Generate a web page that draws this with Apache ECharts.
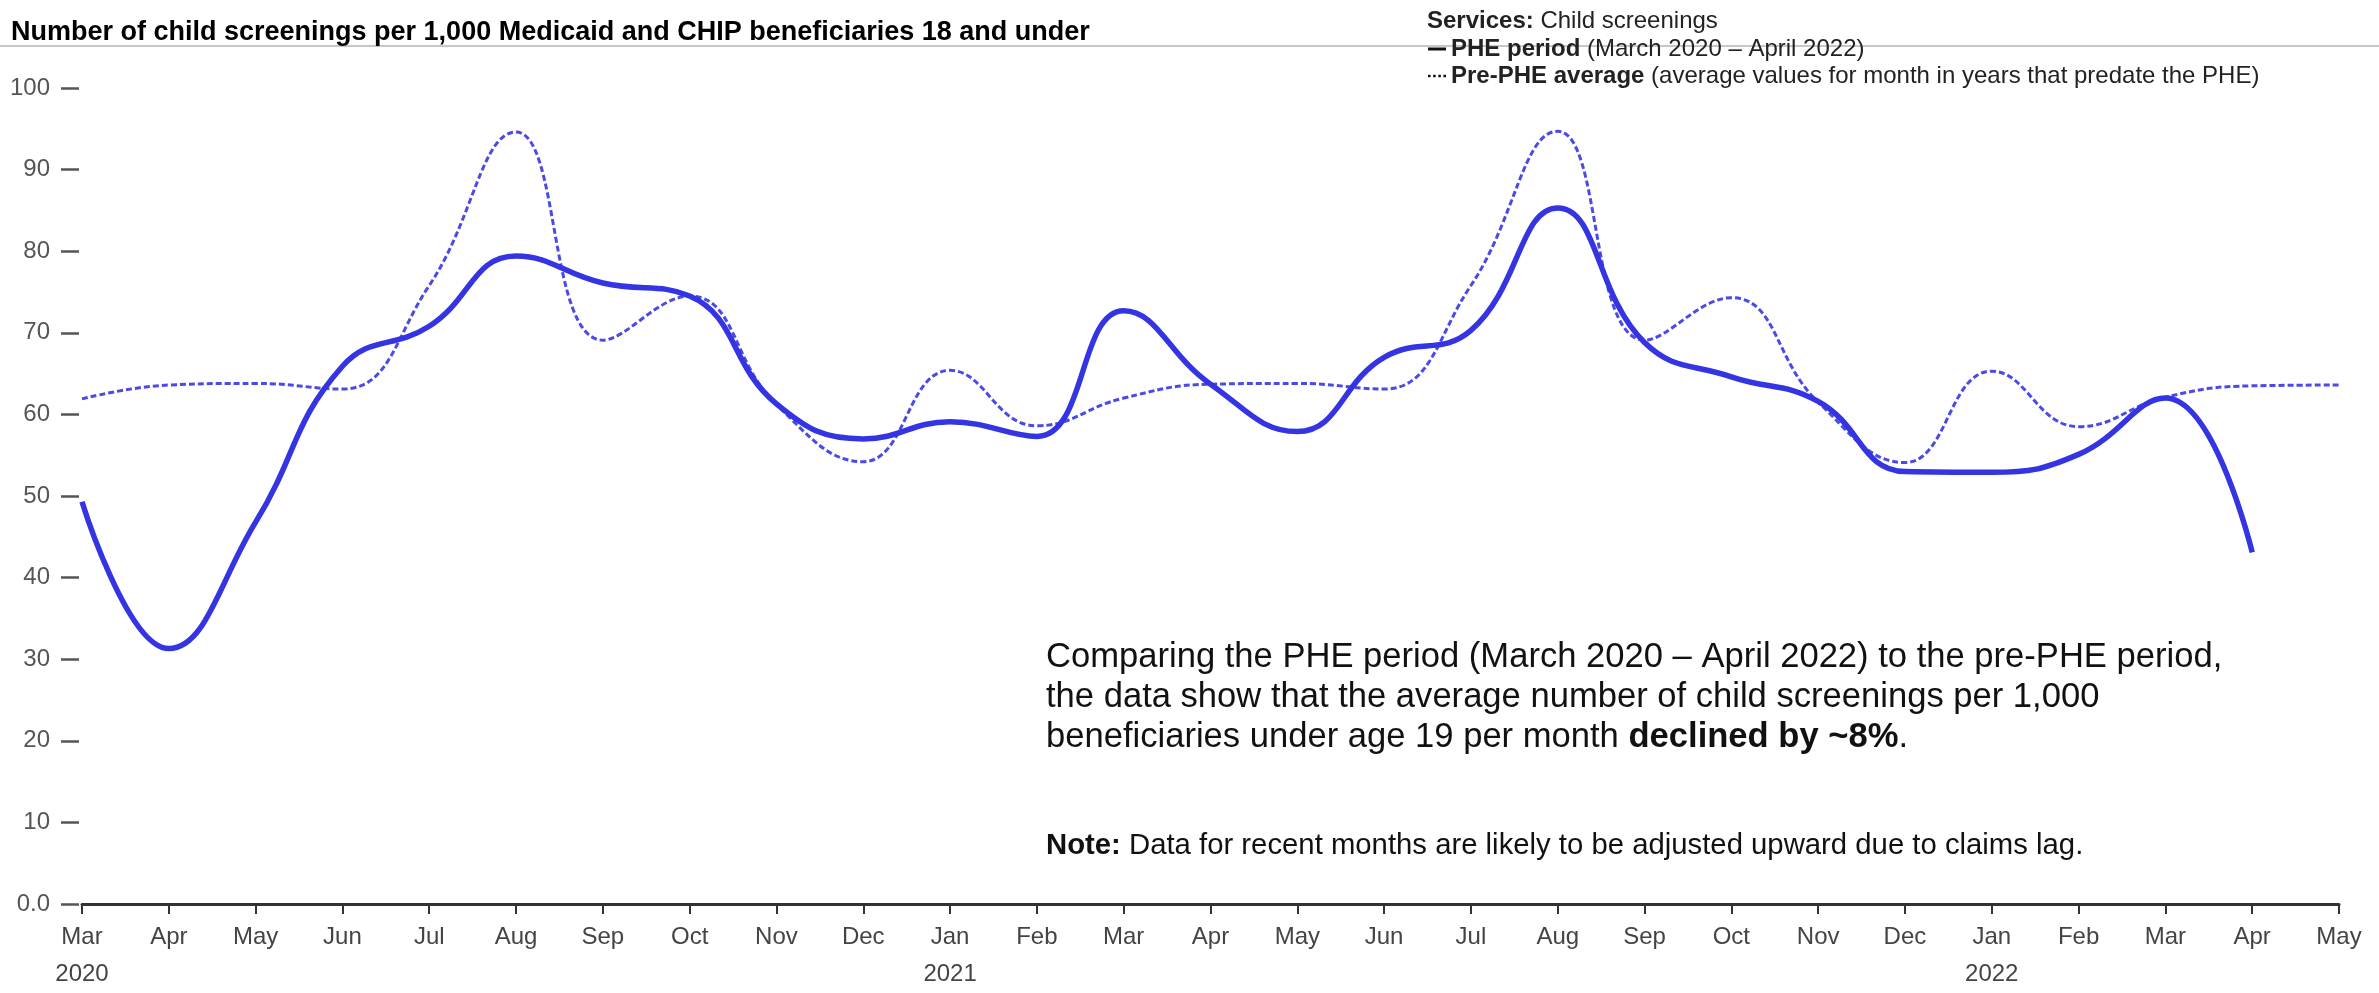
<!DOCTYPE html>
<html>
<head>
<meta charset="utf-8">
<title>Child screenings</title>
<script src="https://cdn.jsdelivr.net/npm/echarts@6/dist/echarts.min.js"></script>
<style>
  html, body { margin: 0; padding: 0; background: #fff; }
  #chart { width: 2379px; height: 993px; }
</style>
</head>
<body>
<div id="chart"></div>
<script>
// months on the x axis, Mar 2020 .. May 2022
const months = ['Mar', 'Apr', 'May', 'Jun', 'Jul', 'Aug', 'Sep', 'Oct', 'Nov', 'Dec',
  'Jan', 'Feb', 'Mar', 'Apr', 'May', 'Jun', 'Jul', 'Aug', 'Sep', 'Oct', 'Nov', 'Dec',
  'Jan', 'Feb', 'Mar', 'Apr', 'May'];
// year shown under the first month of each year
const yearLabels = ['2020', '', '', '', '', '', '', '', '', '',
  '2021', '', '', '', '', '', '', '', '', '', '', '',
  '2022', '', '', '', ''];

// screenings per 1,000 beneficiaries
const phePeriod = [49.3, 31.3, 46.8, 65.9, 70.8, 79.4, 76.1, 74.5, 61.3, 57.0,
  59.1, 57.3, 72.7, 63.7, 57.9, 67.0, 70.3, 85.3, 68.8, 64.6, 61.6, 53.0,
  52.9, 55.1, 62.0, 43.1];
const prePheAverage = [61.9, 63.6, 63.8, 63.1, 75.8, 94.6, 69.1, 74.5, 61.2, 54.2,
  65.4, 58.6, 62.0, 63.7, 63.8, 63.1, 75.8, 94.7, 69.1, 74.3, 61.5, 54.1,
  65.3, 58.5, 62.1, 63.5, 63.6];

const yTicks = [0, 10, 20, 30, 40, 50, 60, 70, 80, 90, 100];

const seriesNames = ['PHE period', 'Pre-PHE average'];
const seriesNotes = ['(March 2020 \u2013 April 2022)',
  '(average values for month in years that predate the PHE)'];

const FONT = 'Liberation Sans, Arial, sans-serif';
const BLUE = '#3434e2';

const chart = echarts.init(document.getElementById('chart'));

chart.setOption({
  animation: false,
  textStyle: { fontFamily: FONT },
  title: {
    text: 'Number of child screenings per 1,000 Medicaid and CHIP beneficiaries 18 and under',
    left: 11,
    top: 19,
    padding: 0,
    textStyle: { fontSize: 27, fontWeight: 'bold', color: '#000', fontFamily: FONT }
  },
  legend: {
    orient: 'vertical',
    left: 1428,
    top: 37,
    padding: 0,
    itemWidth: 18,
    itemHeight: 14,
    itemGap: 3,
    data: [
      { name: seriesNames[0], icon: 'path://M0,0H18V3H0Z', itemStyle: { color: '#111' } },
      {
        name: seriesNames[1],
        icon: 'path://M0,0H2.5V2.5H0ZM5,0H7.5V2.5H5ZM10,0H12.5V2.5H10ZM15,0H17.5V2.5H15Z',
        itemStyle: { color: '#111' }
      }
    ],
    formatter: function (name) {
      return '{b|' + name + '} ' + seriesNotes[seriesNames.indexOf(name)];
    },
    textStyle: {
      fontSize: 24,
      color: '#222',
      fontFamily: FONT,
      rich: { b: { fontSize: 24, fontWeight: 'bold', color: '#222', fontFamily: FONT } }
    }
  },
  graphic: [
    {
      type: 'line',
      shape: { x1: 0, y1: 46, x2: 2379, y2: 46 },
      style: { stroke: '#b4b4b4', lineWidth: 1.5 },
      z: 0
    },
    {
      type: 'text',
      left: 1427,
      top: 9,
      style: {
        text: '{b|Services:} Child screenings',
        fontSize: 24,
        fontFamily: FONT,
        fill: '#222',
        rich: { b: { fontSize: 24, fontWeight: 'bold', fontFamily: FONT, fill: '#222' } }
      }
    },
    {
      type: 'text',
      left: 1046,
      top: 637,
      style: {
        text: 'Comparing the PHE period (March 2020 \u2013 April 2022) to the pre-PHE period,\n' +
          'the data show that the average number of child screenings per 1,000\n' +
          'beneficiaries under age 19 per month {b|declined by ~8%}.',
        fontSize: 34.6,
        lineHeight: 40,
        fontFamily: FONT,
        fill: '#111',
        rich: { b: { fontSize: 34.6, lineHeight: 40, fontWeight: 'bold', fontFamily: FONT, fill: '#111' } }
      }
    },
    {
      type: 'text',
      left: 1046,
      top: 831,
      style: {
        text: '{b|Note:} Data for recent months are likely to be adjusted upward due to claims lag.',
        fontSize: 29.3,
        fontFamily: FONT,
        fill: '#111',
        rich: { b: { fontSize: 29.3, fontWeight: 'bold', fontFamily: FONT, fill: '#111' } }
      }
    }
  ],
  grid: {
    left: 82,
    right: 40,
    top: 88,
    bottom: 81,
    containLabel: false
  },
  xAxis: {
    type: 'category',
    data: months,
    boundaryGap: false,
    axisLine: { lineStyle: { color: '#333', width: 3 } },
    axisTick: { length: 10, lineStyle: { color: '#333', width: 2 } },
    axisLabel: {
      interval: 0,
      margin: 15,
      fontSize: 24,
      lineHeight: 37,
      color: '#444',
      fontFamily: FONT,
      formatter: function (value, index) {
        return yearLabels[index] ? value + '\n' + yearLabels[index] : value;
      }
    },
    splitLine: { show: false }
  },
  yAxis: {
    type: 'value',
    min: yTicks[0],
    max: yTicks[yTicks.length - 1],
    interval: 10,
    offset: 3,
    axisLine: { show: false },
    axisTick: { show: true, length: 18, lineStyle: { color: '#555', width: 2.5 } },
    axisLabel: {
      margin: 29,
      fontSize: 24,
      color: '#555',
      fontFamily: FONT,
      formatter: function (v) { return v === 0 ? '0.0' : String(v); }
    },
    splitLine: { show: false }
  },
  series: [
    {
      name: seriesNames[1],
      type: 'line',
      data: prePheAverage,
      smooth: 0.45,
      symbol: 'none',
      lineStyle: { color: '#4a4aea', width: 3, type: [6, 3] },
      itemStyle: { color: '#4a4aea' },
      z: 2
    },
    {
      name: seriesNames[0],
      type: 'line',
      data: phePeriod,
      smooth: 0.45,
      symbol: 'none',
      lineStyle: { color: BLUE, width: 5.5 },
      itemStyle: { color: BLUE },
      z: 3
    }
  ]
});
</script>
</body>
</html>
